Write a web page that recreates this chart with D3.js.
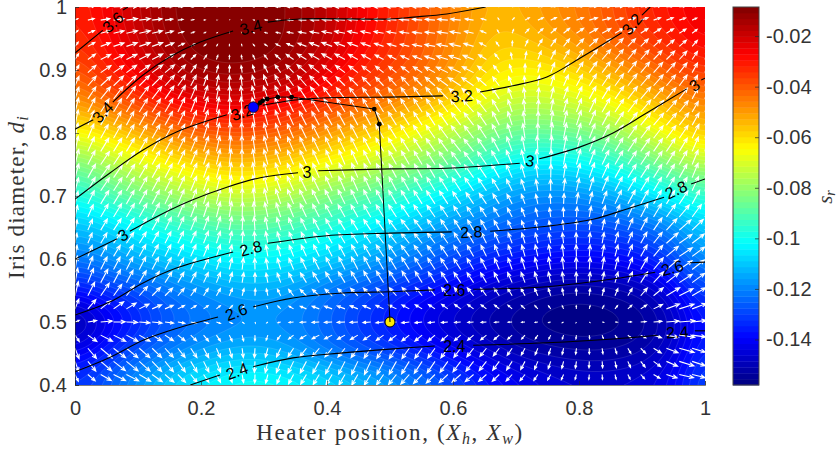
<!DOCTYPE html>
<html><head><meta charset="utf-8">
<script src="https://cdn.jsdelivr.net/npm/d3@7"></script>
<style>html,body{margin:0;padding:0;background:#fff}svg{display:block}text{fill:#262626}</style>
</head><body><svg id="c" width="838" height="453"></svg>
<script>
// ---- data ----
const xGrid=[0,.05,.1,.15,.2,.25,.3,.35,.4,.45,.5,.55,.6,.65,.7,.75,.8,.85,.9,.95,1];
const yGrid=[1,.95,.9,.85,.8,.75,.7,.65,.6,.55,.5,.45,.4];
const sr100=[-.032,-.026,-.018,-.011,-.0088,-.0085,-.0088,-.012,-.018,-.025,-.032,-.039,-.046,-.053,-.053,-.049,-.045,-.039,-.033,-.028,-.024];
const sr095=[-.034,-.028,-.020,-.012,-.009,-.0085,-.009,-.012,-.018,-.026,-.033,-.040,-.047,-.055,-.056,-.052,-.048,-.041,-.036,-.031,-.026];
const sr090=[-.040,-.032,-.025,-.017,-.012,-.011,-.012,-.016,-.024,-.031,-.037,-.042,-.050,-.059,-.063,-.062,-.058,-.052,-.046,-.039,-.034];
const sr085=[-.050,-.042,-.036,-.028,-.024,-.022,-.024,-.028,-.034,-.040,-.046,-.052,-.058,-.068,-.073,-.073,-.070,-.065,-.058,-.051,-.046];
const sr080=[-.066,-.060,-.054,-.047,-.041,-.039,-.040,-.044,-.050,-.056,-.061,-.068,-.075,-.082,-.087,-.087,-.085,-.080,-.072,-.063,-.056];
const sr075=[-.085,-.077,-.070,-.064,-.059,-.056,-.057,-.061,-.066,-.070,-.076,-.082,-.088,-.097,-.103,-.105,-.103,-.098,-.090,-.082,-.075];
const sr070=[-.099,-.092,-.086,-.080,-.075,-.072,-.073,-.077,-.083,-.088,-.093,-.099,-.106,-.112,-.117,-.119,-.118,-.115,-.108,-.101,-.094];
const sr065=[-.112,-.108,-.102,-.097,-.093,-.090,-.090,-.093,-.097,-.102,-.107,-.113,-.118,-.122,-.126,-.128,-.129,-.128,-.125,-.119,-.108];
const sr060=[-.122,-.118,-.113,-.109,-.105,-.102,-.102,-.104,-.108,-.112,-.117,-.123,-.129,-.134,-.137,-.139,-.140,-.139,-.136,-.129,-.116];
const sr055=[-.138,-.132,-.128,-.122,-.118,-.115,-.114,-.117,-.122,-.127,-.132,-.137,-.141,-.146,-.150,-.153,-.154,-.153,-.150,-.142,-.128];
const sr050=[-.153,-.144,-.135,-.127,-.123,-.120,-.119,-.120,-.125,-.131,-.137,-.143,-.148,-.152,-.155,-.157,-.158,-.157,-.155,-.149,-.135];
const sr045=[-.142,-.134,-.126,-.120,-.115,-.112,-.112,-.116,-.121,-.126,-.130,-.135,-.140,-.145,-.150,-.152,-.153,-.153,-.151,-.145,-.132];
const sr040=[-.131,-.125,-.115,-.107,-.102,-.099,-.098,-.100,-.104,-.108,-.113,-.120,-.127,-.134,-.139,-.143,-.145,-.145,-.144,-.140,-.127];
const srRows=[sr100,sr095,sr090,sr085,sr080,sr075,sr070,sr065,sr060,sr055,sr050,sr045,sr040];
const srMin=-.158, srMax=-.0085, nLevels=64;
const xTicks=[0,.2,.4,.6,.8,1], yTicks=[.4,.5,.6,.7,.8,.9,1], cTicks=[-.02,-.04,-.06,-.08,-.1,-.12,-.14];

// black contour lines: each level split where a label interrupts it
const c36a=[[0,.927],[.044,.963]], c36b=[[.076,.995],[.084,1]];
const c34a=[[0,.806],[.029,.821]], c34b=[[.06,.849],[.108,.892],[.151,.921],[.198,.944],[.251,.962]], c34c=[[.306,.976],[.357,.981],[.5,.981],[.537,.984],[.59,.989],[.652,1]];
const c32a=[[0,.695],[.056,.737],[.108,.773],[.162,.802],[.241,.829]], c32b=[[.298,.844],[.346,.852],[.4,.856],[.5,.857],[.584,.859]], c32c=[[.643,.865],[.695,.875],[.749,.889],[.802,.919],[.868,.959]], c32d=[[.9,.987],[.913,1]];
const c30a=[[0,.6],[.067,.632]], c30b=[[.087,.644],[.135,.67],[.187,.694],[.241,.714],[.294,.729],[.354,.737]], c30c=[[.386,.74],[.5,.743],[.59,.744],[.706,.752]], c30d=[[.737,.759],[.802,.778],[.854,.8],[.908,.832],[.971,.87]], c30e=[[.994,.884],[1,.887]];
const c28a=[[0,.511],[.056,.532],[.108,.562],[.162,.586],[.251,.611]], c28b=[[.306,.625],[.4,.637],[.5,.641],[.598,.643]], c28c=[[.659,.644],[.749,.652],[.822,.663],[.881,.681],[.935,.698]], c28d=[[.978,.719],[1,.727]];
const c26a=[[0,.421],[.056,.444],[.108,.471],[.162,.49],[.227,.508]], c26b=[[.283,.524],[.346,.538],[.425,.546],[.5,.548],[.571,.551]], c26c=[[.632,.552],[.749,.556],[.844,.567],[.921,.579]], c26d=[[.976,.594],[1,.595]];
const c24a=[[.183,.4],[.23,.416]], c24b=[[.283,.429],[.346,.443],[.425,.451],[.5,.457],[.571,.462]], c24c=[[.632,.463],[.749,.467],[.854,.473],[.925,.479]], c24d=[[.984,.486],[1,.486]];
const contourSegs=[c36a,c36b,c34a,c34b,c34c,c32a,c32b,c32c,c32d,c30a,c30b,c30c,c30d,c30e,c28a,c28b,c28c,c28d,c26a,c26b,c26c,c26d,c24a,c24b,c24c,c24d];
const labelText=["3.6","3.4","3.4","3.2","3.2","3.2","3","3","3","3","2.8","2.8","2.8","2.6","2.6","2.6","2.4","2.4","2.4"];
const labelX=[.06,.044,.279,.265,.614,.884,.076,.368,.722,.983,.279,.629,.954,.256,.602,.948,.257,.602,.956];
const labelY=[.976,.833,.968,.833,.859,.973,.638,.737,.756,.876,.617,.643,.71,.516,.551,.586,.422,.462,.484];
const labelAngle=[-42,-45,-15,-18,-3,-50,-30,0,8,-35,-15,-3,-25,-20,0,-15,-20,0,-4];
// optimisation path
const pathX=[.5,.483,.475,.344,.322,.305,.298,.294,.289,.286,.283];
const pathY=[.5,.814,.838,.857,.857,.854,.851,.848,.844,.842,.841];

// ---- layout ----
const L=75,R=705,T=7,B=385, CL=733,CR=759;
const svg=d3.select("#c");
const x=d3.scaleLinear().domain([0,1]).range([L,R]);
const y=d3.scaleLinear().domain([.4,1]).range([B,T]);
const c=d3.scaleLinear().domain([srMin,srMax]).range([B,T]);
const FS="'Liberation Sans',Arial,sans-serif", FM="'Liberation Serif',serif";
const clamp=v=>Math.max(0,Math.min(1,v));
const jet=f=>d3.rgb(255*clamp(1.5-Math.abs(4*f-3)),255*clamp(1.5-Math.abs(4*f-2)),255*clamp(1.5-Math.abs(4*f-1)))+"";
const bandColor=i=>jet((i+.5)/nLevels);

// ---- display grid from the read table (Catmull-Rom resampling + slight smoothing) ----
const nx=201,ny=121;
function cr(p0,p1,p2,p3,t){return .5*(2*p1+(p2-p0)*t+(2*p0-5*p1+4*p2-p3)*t*t+(3*p1-p0-3*p2+p3)*t*t*t);}
function samp(i,j){i=Math.max(0,Math.min(xGrid.length-1,i));j=Math.max(0,Math.min(yGrid.length-1,j));return srRows[j][i];}
function field0(u,v){
  const i=Math.min(Math.floor(u),xGrid.length-2),j=Math.min(Math.floor(v),yGrid.length-2),tu=u-i,tv=v-j,col=[];
  for(let k=-1;k<3;k++)col.push(cr(samp(i-1,j+k),samp(i,j+k),samp(i+1,j+k),samp(i+2,j+k),tu));
  return cr(col[0],col[1],col[2],col[3],tv);
}
let vals=new Float64Array(nx*ny);
for(let r=0;r<ny;r++)for(let q=0;q<nx;q++)vals[r*nx+q]=field0(q/(nx-1)*(xGrid.length-1),r/(ny-1)*(yGrid.length-1));
if(d3.blur2){const d={data:vals,width:nx,height:ny};d3.blur2(d,4);vals=d.data;}
const valsArr=Array.from(vals);
function fieldAt(xv,yv){
  const u=Math.max(0,Math.min(nx-1.001,xv*(nx-1))),v=Math.max(0,Math.min(ny-1.001,(1-yv)/.6*(ny-1)));
  const i=Math.floor(u),j=Math.floor(v),a=u-i,b=v-j;
  return (1-a)*(1-b)*valsArr[j*nx+i]+a*(1-b)*valsArr[j*nx+i+1]+(1-a)*b*valsArr[(j+1)*nx+i]+a*b*valsArr[(j+1)*nx+i+1];
}

// ---- filled contours ----
const defs=svg.append("defs");
defs.append("clipPath").attr("id","pl").append("rect").attr("x",L).attr("y",T).attr("width",R-L).attr("height",B-T);
const plot=svg.append("g").attr("clip-path","url(#pl)");
const thresholds=d3.range(nLevels).map(i=>srMin+i*(srMax-srMin)/nLevels);
const contours=d3.contours().size([nx,ny]).thresholds(thresholds)(valsArr);
const proj=d3.geoTransform({point(px,py){
  this.stream.point(x((px-.5)/(nx-1)),y(1-(py-.5)/(ny-1)*.6));}});
const gp=d3.geoPath(proj);
plot.append("rect").attr("x",L).attr("y",T).attr("width",R-L).attr("height",B-T).attr("fill",bandColor(0));
plot.selectAll("path.band").data(contours).join("path").attr("class","band").attr("d",gp)
  .attr("fill",(d,i)=>bandColor(i)).attr("stroke","#fff").attr("stroke-opacity",.2).attr("stroke-width",.6);

// ---- gradient arrows ----
const qx=d3.range(50).map(i=>i/49), qy=d3.range(29).map(i=>1-i/48);
const h=.004, arrows=[];
qy.forEach(yv=>qx.forEach(xv=>{
  const gx=(fieldAt(Math.min(1,xv+h),yv)-fieldAt(Math.max(0,xv-h),yv))/((Math.min(1,xv+h))-(Math.max(0,xv-h)));
  const gy=(fieldAt(xv,Math.min(1,yv+h))-fieldAt(xv,Math.max(.4,yv-h)))/((Math.min(1,yv+h))-(Math.max(.4,yv-h)));
  arrows.push({xv,yv,gx:gx*1.5,gy});
}));
function arrowPath(d){
  const m=Math.hypot(d.gx,d.gy), len=Math.min(15.5,46*m);
  if(m<1e-6)return "";
  const ux=d.gx/m,uy=-d.gy/m,x0=x(d.xv),y0=y(d.yv),x1=x0+ux*len,y1=y0+uy*len;
  const hl=Math.min(4.5,len*.4),hw=hl*.42;
  const bx=x1-ux*hl,by=y1-uy*hl;
  return `M${x0},${y0}L${x1},${y1}M${bx-uy*hw},${by+ux*hw}L${x1},${y1}L${bx+uy*hw},${by-ux*hw}`;
}
plot.append("path").attr("d",arrows.map(arrowPath).join("")).attr("fill","none").attr("stroke","#fff")
  .attr("stroke-width",1.1).attr("stroke-linejoin","miter");

// ---- black contours + labels ----
const line=d3.line().x(d=>x(d[0])).y(d=>y(d[1])).curve(d3.curveCatmullRom.alpha(.5));
plot.selectAll("path.iso").data(contourSegs).join("path").attr("class","iso").attr("d",line)
  .attr("fill","none").attr("stroke","#000").attr("stroke-width",1.1);
svg.append("g").selectAll("text").data(labelText).join("text").text(d=>d)
  .attr("transform",(d,i)=>`translate(${x(labelX[i])},${y(labelY[i])}) rotate(${labelAngle[i]})`)
  .attr("text-anchor","middle").attr("dy","0.36em").attr("font-family",FS).attr("font-size",16).style("fill","#000");

// ---- optimisation path ----
const n=pathX.length, pts=pathX.map((v,i)=>[v,pathY[i]]);
const overlay=svg.append("g");
overlay.append("circle").attr("cx",x(pathX[0])).attr("cy",y(pathY[0])).attr("r",5).attr("fill","#ffe800").attr("stroke","#000").attr("stroke-width",1);
overlay.append("path").attr("d",d3.line().x(d=>x(d[0])).y(d=>y(d[1]))(pts)).attr("fill","none").attr("stroke","#000").attr("stroke-width",1);
overlay.selectAll("circle.s").data(pts.slice(1,n-1)).join("circle").attr("class","s").attr("cx",d=>x(d[0])).attr("cy",d=>y(d[1])).attr("r",2.4).attr("fill","#000");
overlay.append("circle").attr("cx",x(pathX[n-1])).attr("cy",y(pathY[n-1])).attr("r",5.3).attr("fill","#0000ff").attr("stroke","#111").attr("stroke-width",.8);

// ---- axes ----
const gx=svg.append("g").attr("transform",`translate(0,${B})`).call(d3.axisBottom(x).tickValues(xTicks).tickFormat(d3.format("~g")).tickSize(-4).tickPadding(16));
const gy=svg.append("g").attr("transform",`translate(${L},0)`).call(d3.axisLeft(y).tickValues(yTicks).tickFormat(d3.format("~g")).tickSize(-4).tickPadding(8));
[gx,gy].forEach(g=>{g.selectAll("text").attr("font-family",FS).attr("font-size",20).style("fill","#333");
 g.selectAll("line").attr("stroke","#262626").attr("stroke-width",.6);g.select(".domain").attr("stroke","#262626").attr("stroke-width",.6);});

// ---- colour bar ----
const cb=svg.append("g");
cb.selectAll("rect").data(d3.range(nLevels)).join("rect").attr("x",CL).attr("width",CR-CL)
  .attr("y",i=>c(thresholds[i])-(B-T)/nLevels).attr("height",(B-T)/nLevels+.4).attr("fill",bandColor);
cb.append("rect").attr("x",CL).attr("y",T).attr("width",CR-CL).attr("height",B-T).attr("fill","none").attr("stroke","#444").attr("stroke-width",1);
const ca=svg.append("g").attr("transform",`translate(${CR},0)`).call(d3.axisRight(c).tickValues(cTicks).tickFormat(d3.format("~g")).tickSize(-4).tickPadding(7));
ca.select(".domain").remove();
ca.selectAll("line").attr("stroke","#262626").attr("stroke-width",.7);
ca.selectAll("text").attr("font-family",FS).attr("font-size",20).style("fill","#333").text(d=>d3.format("~g")(d).replace("−","-"));

// ---- titles ----
function mathLabel(sel,parts,subSize,shift){parts.forEach(p=>{const t=sel.append("tspan").text(p.t);
  if(p.i)t.attr("font-style","italic"); if(p.sub){t.attr("dy",shift).attr("font-size",subSize);} if(p.up)t.attr("dy",-shift);});}
const xl=svg.append("text").attr("x",390).attr("y",440).attr("text-anchor","middle").attr("font-family",FM).attr("font-size",23).attr("letter-spacing",1.65).style("fill","#333");
mathLabel(xl,[{t:"Heater position, ("},{t:"X",i:1},{t:"h",i:1,sub:1},{t:", ",up:1},{t:"X",i:1},{t:"w",i:1,sub:1},{t:")",up:1}],16,4);
const yl=svg.append("text").attr("transform","translate(24,197) rotate(-90)").attr("text-anchor","middle").attr("font-family",FM).attr("font-size",23).attr("letter-spacing",1.2).style("fill","#333");
mathLabel(yl,[{t:"Iris diameter, "},{t:"d",i:1},{t:"i",i:1,sub:1}],16,4);
const sl=svg.append("text").attr("transform","translate(832,197) rotate(-90)").attr("text-anchor","middle").attr("font-family",FM).attr("font-size",21).style("fill","#333");
mathLabel(sl,[{t:"s",i:1},{t:"r",i:1,sub:1}],14,3);
</script></body></html>
